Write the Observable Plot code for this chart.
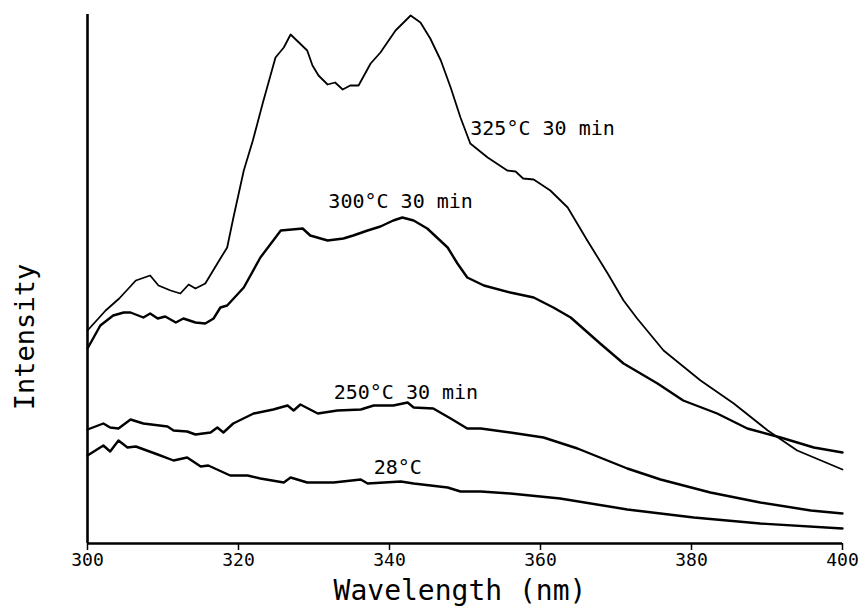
<!DOCTYPE html>
<html><head><meta charset="utf-8">
<script src="https://cdn.jsdelivr.net/npm/d3@7"></script>
<script src="https://cdn.jsdelivr.net/npm/@observablehq/plot@0.6"></script>
<style>body{margin:0;background:#fff;} svg{display:block;}</style>
</head><body><div id="chart"></div>
<script>
// Wavelength (nm) and intensity (arbitrary units) for each curve
const wl325 = [300.0,302.4,304.2,306.4,308.3,309.4,311.0,312.3,313.4,314.3,315.6,317.6,318.5,319.3,320.7,321.9,323.2,324.9,326.0,326.9,329.1,329.8,330.6,331.8,332.8,333.8,334.8,335.9,337.5,338.8,340.8,342.8,344.1,345.4,346.8,348.1,349.4,350.7,353.0,355.6,356.7,357.7,359.1,361.3,363.6,366.2,368.9,371.0,372.8,376.3,381.2,385.6,390.1,394.0,400.0];
const int325 = [213,233,245,263,268,258,253,250,259,255,260,285,296,325,373,403,440,486,496,509,493,478,468,459,461,454,458,458,480,491,513,528,521,505,483,456,426,400,386,373,372,365,364,353,336,303,270,243,225,193,163,140,113,93,74];

const wl300 = [300.0,301.7,303.4,304.8,305.7,307.4,308.3,309.3,310.3,311.7,312.7,314.3,315.6,316.7,317.6,318.5,320.7,322.9,325.6,328.5,329.5,331.8,333.9,335.2,337.1,338.8,340.5,341.7,343.2,345.0,347.7,349.0,350.3,352.5,356.0,359.1,361.7,364.0,367.9,371.0,375.5,378.9,383.4,387.4,391.8,396.2,400.0];
const int300 = [195,218,228,231,231,226,230,225,227,221,225,221,220,225,236,238,256,286,313,315,308,303,305,308,313,317,323,326,323,315,296,280,266,258,251,246,236,226,200,180,160,143,130,115,106,96,91];

const wl250 = [300.0,302.1,303.0,304.1,305.7,307.4,310.6,311.4,313.2,314.3,316.3,317.2,318.0,319.3,322.0,324.6,326.5,327.3,328.2,330.5,333.1,336.2,337.9,340.5,342.4,343.2,345.8,348.1,350.3,352.1,356.0,360.4,364.9,371.5,375.9,382.5,389.1,395.8,400.0];
const int250 = [114,120,116,115,124,120,117,113,112,109,111,116,111,120,130,134,138,133,139,130,133,134,138,138,141,136,135,125,115,115,111,106,95,75,64,51,41,33,30];

const wl28 = [300.0,302.1,303.0,304.1,305.3,306.4,309.3,311.4,313.2,315.0,316.0,318.9,321.2,322.9,326.0,326.9,329.1,332.6,336.2,337.1,341.5,343.2,347.7,349.4,352.1,356.0,362.6,371.5,380.3,389.1,400.0];
const int28 = [88,98,92,103,96,97,89,83,86,77,78,68,68,65,61,66,61,61,64,60,62,60,56,52,52,50,45,34,26,20,15];

const xTicks = [300,320,340,360,380,400];
const labelText = ["325°C 30 min","300°C 30 min","250°C 30 min","28°C"];
const labelWl = [350.7,331.9,332.6,337.9];
const labelInt = [415,342,151,76];

const toRows = (wl, vals) => wl.map((w,i) => ({wl: w, v: vals[i]}));
const d325 = toRows(wl325, int325);
const d300 = toRows(wl300, int300);
const d250 = toRows(wl250, int250);
const d28 = toRows(wl28, int28);
const labels = labelText.map((t,i) => ({t, wl: labelWl[i], v: labelInt[i]}));

const font = "DejaVu Sans Mono, monospace";

const chart = Plot.plot({
  width: 860,
  height: 612,
  marginLeft: 87,
  marginRight: 18,
  marginTop: 14,
  marginBottom: 69,
  style: {fontFamily: font, background: "#fff", color: "#000"},
  x: {domain: [300, 400]},
  y: {domain: [0, 529], axis: null},
  marks: [
    Plot.axisX({ticks: xTicks, tickSize: 7, tickPadding: 3, fontSize: 18, label: null, strokeWidth: 1.5}),
    Plot.ruleY([0], {stroke: "#000", strokeWidth: 2.6}),
    Plot.ruleX([300], {stroke: "#000", strokeWidth: 2.6}),
    Plot.line(d325, {x: "wl", y: "v", stroke: "#000", strokeWidth: 1.8, strokeLinejoin: "round"}),
    Plot.line(d300, {x: "wl", y: "v", stroke: "#000", strokeWidth: 2.4, strokeLinejoin: "round"}),
    Plot.line(d250, {x: "wl", y: "v", stroke: "#000", strokeWidth: 2.4, strokeLinejoin: "round"}),
    Plot.line(d28, {x: "wl", y: "v", stroke: "#000", strokeWidth: 2.4, strokeLinejoin: "round"}),
    Plot.text(labels, {x: "wl", y: "v", text: "t", textAnchor: "start", fontSize: 20, fill: "#000", fontFamily: font}),
    Plot.text(["Intensity"], {frameAnchor: "left", text: d => d, rotate: -90, textAnchor: "middle", lineAnchor: "middle", dx: -62, dy: 58, fontSize: 27, fill: "#000", fontFamily: font}),
    Plot.text(["Wavelength (nm)"], {frameAnchor: "bottom", text: d => d, textAnchor: "middle", lineAnchor: "middle", dx: -5, dy: 48, fontSize: 28, fill: "#000", fontFamily: font})
  ]
});
document.getElementById("chart").appendChild(chart);
</script></body></html>
